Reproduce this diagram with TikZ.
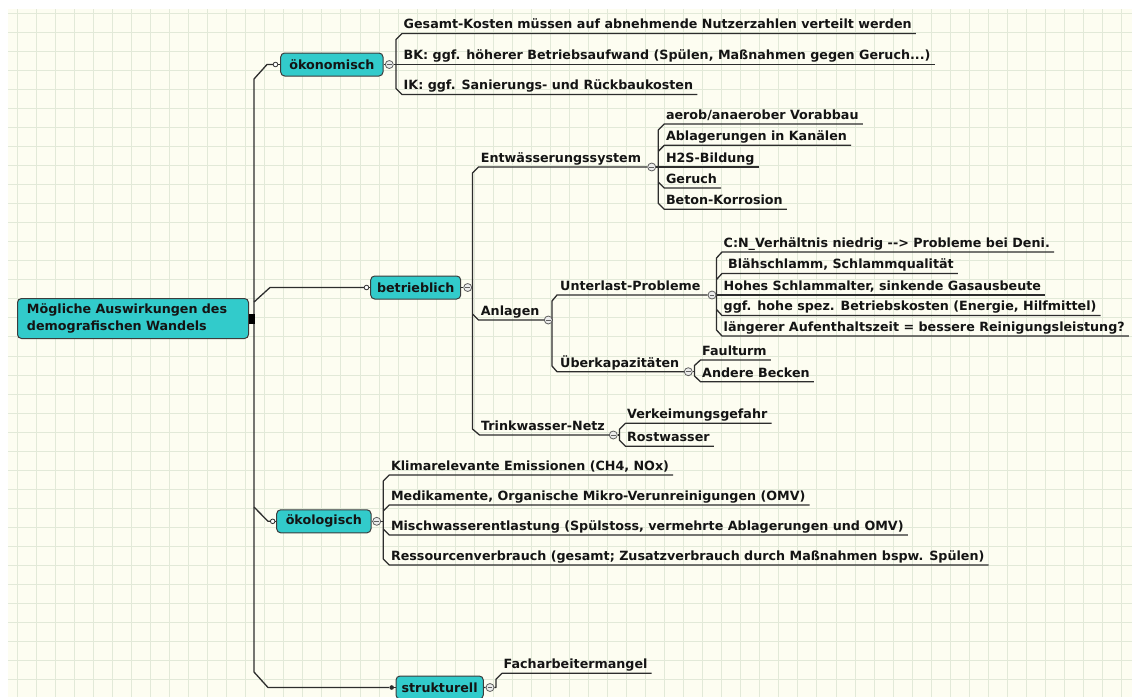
\documentclass[tikz,border=0pt]{standalone}
\usepackage{fontspec}
\setmainfont{DejaVu Sans}
\definecolor{bgc}{RGB}{253,253,241}
\definecolor{gridc}{RGB}{226,233,216}
\definecolor{cyanc}{RGB}{50,203,203}
\definecolor{bdc}{RGB}{60,60,60}
\definecolor{lnc}{RGB}{45,45,45}
\definecolor{txc}{RGB}{20,20,20}
\definecolor{foldc}{RGB}{95,95,95}
\definecolor{foldf}{RGB}{236,236,236}
\newcommand\mmfont{\bfseries\fontsize{12.7}{17}\selectfont}
\pgfdeclarelayer{gridlayer}
\pgfdeclarelayer{linelayer}
\pgfsetlayers{gridlayer,linelayer,main}
\tikzset{
  ln/.style={draw=lnc, line width=1.3pt, line join=round},
  topic/.style={draw=bdc, fill=cyanc, rounded corners=4pt, line width=1pt, inner sep=0pt, font=\mmfont, text=txc, minimum height=23pt},
  sublabel/.style={anchor=base west, inner sep=0pt, font=\mmfont, text=txc},
  leaf/.style={anchor=south west, inner sep=0pt, text depth=4.5pt, font=\mmfont, text=txc, execute at begin node={\hspace*{1.5pt}}, execute at end node={\hspace*{4pt}}},
  fold/.style={circle, draw=foldc, fill=foldf, line width=0.8pt, minimum size=8pt, inner sep=0pt,
    path picture={\draw[foldc, line width=0.8pt] ([xshift=-2.4pt]path picture bounding box.center) -- ([xshift=2.4pt]path picture bounding box.center);}},
  hook/.style={circle, draw=lnc, fill=white, line width=0.8pt, minimum size=4.6pt, inner sep=0pt},
  hookfull/.style={circle, fill=lnc, minimum size=4.6pt, inner sep=0pt},
}
\begin{document}
\begin{tikzpicture}[x=1pt,y=-1pt]
\useasboundingbox (0,0) rectangle (1132,697);
\begin{pgfonlayer}{gridlayer}
  \fill[white] (0,0) rectangle (1132,697);
  \fill[bgc] (8,9) rectangle (1132,697);
  \foreach \k in {0,...,58} {\draw[gridc, line width=1pt] ({17.3+19.04*\k},9) -- ({17.3+19.04*\k},697);}
  \foreach \k in {0,...,36} {\draw[gridc, line width=1pt] (8,{13.3+19.04*\k}) -- (1132,{13.3+19.04*\k});}
\end{pgfonlayer}

% ---------- main topics ----------
\node[topic, anchor=north west, minimum width=231pt, minimum height=40pt, text width=212pt, inner xsep=9.5pt, align=left] (root) at (17,298) {Mögliche Auswirkungen des\\demografischen Wandels};
\fill[black] ([yshift=5pt]root.east) rectangle ++(6,10);

\node[topic, minimum width=102.3pt] (oek) at (331.85,64.5) {ökonomisch};
\node[topic, minimum width=90pt] (bet) at (415.7,287.5) {betrieblich};
\node[topic, minimum width=94.3pt] (oko) at (323.85,521.3) {ökologisch};
\node[topic, minimum width=87.3pt] (str) at (439.65,687.5) {strukturell};

\node[hook] (hoek) at (275.5,64.5) {};
\node[hook] (hbet) at (366.5,287.5) {};
\node[hook] (hoko) at (272.7,521.3) {};
\node[hookfull] (hstr) at (391.7,687.5) {};

\node[fold] (foek) at (389.3,64.5) {};
\node[fold] (fbet) at (467.7,287.5) {};
\node[fold] (foko) at (376.7,521.3) {};
\node[fold] (fstr) at (490,687.5) {};

% ---------- ökonomisch ----------
\node[leaf] (g1) at (402,33.5) {Gesamt-Kosten müssen auf abnehmende Nutzerzahlen verteilt werden};
\node[leaf] (g2) at (402,64.5) {BK: ggf. höherer Betriebsaufwand (Spülen, Maßnahmen gegen Geruch...)};
\node[leaf] (g3) at (402,94.5) {IK: ggf. Sanierungs- und Rückbaukosten};

% ---------- betrieblich ----------
\node[sublabel] (entw) at (480.7,162.5) {Entwässerungssystem};
\node[sublabel] (anl) at (480.7,315.5) {Anlagen};
\node[sublabel] (trw) at (481,430.5) {Trinkwasser-Netz};
\node[fold] (fentw) at (651.7,167) {};
\node[fold] (fanl) at (548.3,320) {};
\node[fold] (ftrw) at (613.3,435) {};

\node[leaf] (e1) at (664.3,124) {aerob/anaerober Vorabbau};
\node[leaf] (e2) at (664.3,145.3) {Ablagerungen in Kanälen};
\node[leaf] (e3) at (664.3,167) {H2S-Bildung};
\node[leaf] (e4) at (664.3,188) {Geruch};
\node[leaf] (e5) at (664.3,209.3) {Beton-Korrosion};

\node[sublabel] (unt) at (560,290.5) {Unterlast-Probleme};
\node[sublabel] (ueb) at (560,367.2) {Überkapazitäten};
\node[fold] (funt) at (712,295) {};
\node[fold] (fueb) at (688.3,371.7) {};

\node[leaf] (u1) at (722,252) {C:N\_Verhältnis niedrig -{}-> Probleme bei Deni.};
\node[leaf] (u2) at (722,273.5) {\ Blähschlamm, Schlammqualität};
\node[leaf] (u3) at (722,295) {Hohes Schlammalter, sinkende Gasausbeute};
\node[leaf] (u4) at (722,315.5) {ggf. hohe spez. Betriebskosten (Energie, Hilfmittel)};
\node[leaf] (u5) at (722,336) {längerer Aufenthaltszeit = bessere Reinigungsleistung?};

\node[leaf] (k1) at (700.5,360) {Faulturm};
\node[leaf] (k2) at (700.5,381.7) {Andere Becken};

\node[leaf] (t1) at (625.5,423.3) {Verkeimungsgefahr};
\node[leaf] (t2) at (625.5,446.3) {Rostwasser};

% ---------- ökologisch ----------
\node[leaf] (o1) at (389.3,475) {Klimarelevante Emissionen (CH4, NOx)};
\node[leaf] (o2) at (389.3,505) {Medikamente, Organische Mikro-Verunreinigungen (OMV)};
\node[leaf] (o3) at (389.3,535) {Mischwasserentlastung (Spülstoss, vermehrte Ablagerungen und OMV)};
\node[leaf] (o4) at (389.3,565) {Ressourcenverbrauch (gesamt; Zusatzverbrauch durch Maßnahmen bspw. Spülen)};

% ---------- strukturell ----------
\node[leaf] (f1) at (502,673.3) {Facharbeitermangel};

% ---------- connectors ----------
\begin{pgfonlayer}{linelayer}
  % trunk
  \draw[ln] (hoek) -- (267,64.5) -- (254,79) -- (254,672) -- (268,687.5) -- (hstr);
  \draw[ln] (254,302) -- (270,287.5) -- (hbet);
  \draw[ln] (254,507) -- (268,521.3) -- (hoko);
  \draw[ln] (hoek) -- (oek);
  \draw[ln] (hbet) -- (bet);
  \draw[ln] (hoko) -- (oko);
  \draw[ln] (hstr) -- (str);
  % oekonomisch
  \draw[ln] (oek) -- (foek) -- (g2.south west) -- (g2.south east);
  \draw[ln] (g1.south east) -- (g1.south west) -- (396,39.5) -- (396,88.5) -- (g3.south west) -- (g3.south east);
  % betrieblich
  \draw[ln] (bet) -- (fbet) -- (472.5,287.5);
  \draw[ln] (fentw) -- (478.5,167) -- (472.5,173) -- (472.5,429) -- (479.5,435) -- (ftrw);
  \draw[ln] (472.5,314) -- (478.5,320) -- (fanl);
  % entwaesserung
  \draw[ln] (fentw) -- (e3.south west) -- (e3.south east);
  \draw[ln] (e1.south east) -- (e1.south west) -- (658.3,130) -- (658.3,203.3) -- (e5.south west) -- (e5.south east);
  \draw[ln] (e2.south east) -- (e2.south west) -- (658.3,151.3);
  \draw[ln] (e4.south east) -- (e4.south west) -- (658.3,182);
  % anlagen
  \draw[ln] (fanl) -- (552,320);
  \draw[ln] (funt) -- (557,295) -- (552,301) -- (552,366) -- (557,371.7) -- (fueb);
  % unterlast
  \draw[ln] (funt) -- (u3.south west) -- (u3.south east);
  \draw[ln] (u1.south east) -- (u1.south west) -- (716.5,258) -- (716.5,330) -- (u5.south west) -- (u5.south east);
  \draw[ln] (u2.south east) -- (u2.south west) -- (716.5,279.5);
  \draw[ln] (u4.south east) -- (u4.south west) -- (716.5,309.5);
  % ueberkapazitaeten
  \draw[ln] (fueb) -- (694.5,371.7);
  \draw[ln] (k1.south east) -- (k1.south west) -- (694.5,365.5) -- (694.5,376) -- (k2.south west) -- (k2.south east);
  % trinkwasser
  \draw[ln] (ftrw) -- (619.5,435);
  \draw[ln] (t1.south east) -- (t1.south west) -- (619.5,429.3) -- (619.5,440.3) -- (t2.south west) -- (t2.south east);
  % oekologisch
  \draw[ln] (oko) -- (foko) -- (383.3,521.3);
  \draw[ln] (o1.south east) -- (o1.south west) -- (383.3,481) -- (383.3,559) -- (o4.south west) -- (o4.south east);
  \draw[ln] (o2.south east) -- (o2.south west) -- (383.3,511);
  \draw[ln] (o3.south east) -- (o3.south west) -- (383.3,529);
  % strukturell
  \draw[ln] (str) -- (fstr) -- (496,687.5) -- (496,679.3) -- (f1.south west) -- (f1.south east);
\end{pgfonlayer}
\end{tikzpicture}
\end{document}
